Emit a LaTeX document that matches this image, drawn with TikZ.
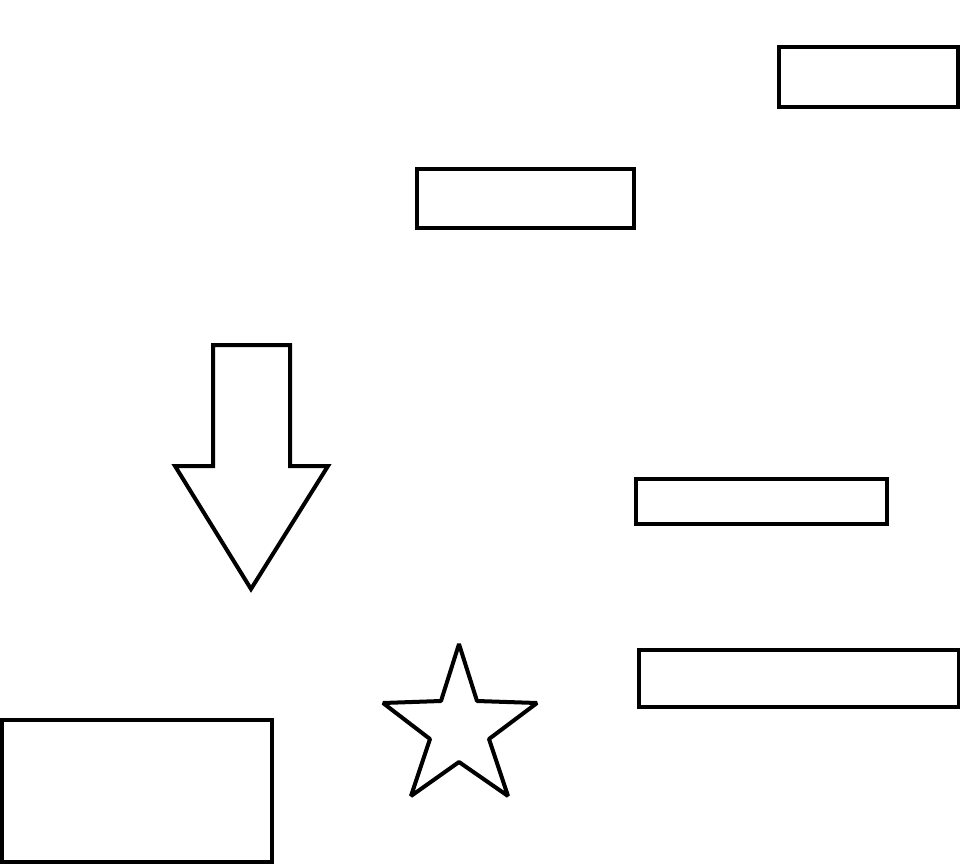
\documentclass[tikz,border=0pt]{standalone}
\begin{document}
\begin{tikzpicture}[x=1pt,y=-1pt,outl/.style={draw=black,line width=4pt,line join=miter},starl/.style={draw=black,line width=4pt,line join=bevel}]
\useasboundingbox (0,0) rectangle (960,864);
\draw[outl] (779,47) rectangle (958,107);
\draw[outl] (417,169) rectangle (634,228);
\draw[outl,miter limit=3] (213,345) -- (290,345) -- (290,466) -- (328,466) -- (251,589) -- (175,466) -- (213,466) -- cycle;
\draw[outl] (636,479) rectangle (887,524);
\draw[outl] (639,650) rectangle (958.5,707);
\draw[outl] (1.5,720) rectangle (272,862);
\draw[starl] (459,644) -- (477,701) -- (537,703) -- (489,739) -- (508,796) -- (459,762) -- (411,796) -- (430,739) -- (383,703) -- (441,701) -- cycle;
\end{tikzpicture}
\end{document}
